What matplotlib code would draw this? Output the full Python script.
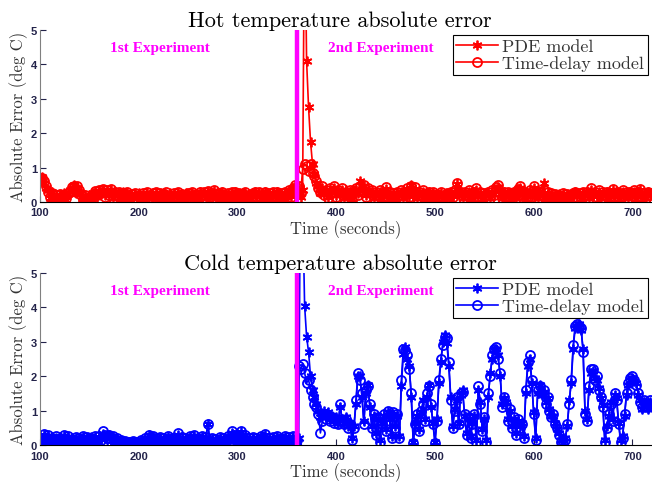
import numpy as np
import matplotlib
matplotlib.use('Agg')
import matplotlib.pyplot as plt

# time axis (seconds), one sample every 2 s
time = np.arange(100, 721, 2)
switch_time = 360  # start of 2nd experiment

# Hot temperature absolute error (deg C)
hot_pde = [
    0.65, 0.72, 0.55, 0.40, 0.35, 0.10, 0.28, 0.08, 0.18, 0.12,  # 100
    0.20, 0.08, 0.25, 0.05, 0.22, 0.35, 0.38, 0.48, 0.25, 0.40,  # 120
    0.30, 0.25, 0.08, 0.18, 0.12, 0.20, 0.08, 0.25, 0.30, 0.15,  # 140
    0.32, 0.28, 0.35, 0.20, 0.30, 0.25, 0.35, 0.12, 0.28, 0.22,  # 160
    0.25, 0.08, 0.28, 0.12, 0.25, 0.18, 0.20, 0.10, 0.22, 0.12,  # 180
    0.25, 0.08, 0.20, 0.18, 0.25, 0.10, 0.22, 0.20, 0.12, 0.25,  # 200
    0.18, 0.22, 0.08, 0.25, 0.22, 0.12, 0.25, 0.08, 0.22, 0.18,  # 220
    0.25, 0.12, 0.20, 0.08, 0.25, 0.22, 0.12, 0.25, 0.18, 0.20,  # 240
    0.08, 0.28, 0.22, 0.25, 0.12, 0.30, 0.18, 0.22, 0.32, 0.12,  # 260
    0.22, 0.08, 0.28, 0.22, 0.12, 0.22, 0.08, 0.25, 0.18, 0.28,  # 280
    0.12, 0.22, 0.08, 0.25, 0.25, 0.12, 0.22, 0.08, 0.22, 0.28,  # 300
    0.18, 0.25, 0.08, 0.22, 0.28, 0.12, 0.22, 0.08, 0.25, 0.18,  # 320
    0.28, 0.12, 0.22, 0.08, 0.25, 0.22, 0.32, 0.18, 0.38, 0.45,  # 340
    0.20, 0.30, 0.15, 0.35, 9.00, 4.10, 2.75, 1.75, 1.10, 0.80,  # 360
    0.55, 0.45, 0.25, 0.40, 0.25, 0.30, 0.15, 0.35, 0.30, 0.40,  # 380
    0.20, 0.30, 0.28, 0.35, 0.12, 0.35, 0.18, 0.30, 0.08, 0.35,  # 400
    0.35, 0.25, 0.60, 0.35, 0.45, 0.20, 0.35, 0.28, 0.30, 0.12,  # 420
    0.25, 0.22, 0.30, 0.08, 0.28, 0.38, 0.18, 0.25, 0.12, 0.22,  # 440
    0.08, 0.25, 0.22, 0.30, 0.12, 0.28, 0.35, 0.18, 0.50, 0.22,  # 460
    0.38, 0.12, 0.25, 0.22, 0.30, 0.08, 0.22, 0.28, 0.12, 0.25,  # 480
    0.08, 0.20, 0.18, 0.25, 0.08, 0.22, 0.22, 0.12, 0.28, 0.18,  # 500
    0.30, 0.52, 0.28, 0.25, 0.12, 0.25, 0.22, 0.30, 0.08, 0.22,  # 520
    0.28, 0.35, 0.18, 0.25, 0.08, 0.22, 0.22, 0.28, 0.12, 0.30,  # 540
    0.22, 0.38, 0.42, 0.22, 0.12, 0.28, 0.18, 0.25, 0.08, 0.22,  # 560
    0.28, 0.12, 0.35, 0.40, 0.22, 0.28, 0.08, 0.22, 0.30, 0.18,  # 580
    0.40, 0.22, 0.12, 0.28, 0.22, 0.55, 0.08, 0.25, 0.18, 0.22,  # 600
    0.12, 0.20, 0.08, 0.22, 0.12, 0.22, 0.12, 0.20, 0.08, 0.18,  # 620
    0.22, 0.28, 0.18, 0.22, 0.08, 0.25, 0.22, 0.28, 0.12, 0.35,  # 640
    0.22, 0.28, 0.18, 0.30, 0.12, 0.25, 0.22, 0.28, 0.08, 0.22,  # 660
    0.35, 0.18, 0.28, 0.08, 0.22, 0.30, 0.22, 0.25, 0.12, 0.28,  # 680
    0.22, 0.30, 0.08, 0.25, 0.35, 0.18, 0.22, 0.12, 0.28, 0.22,  # 700
    0.22,
]
hot_delay = [
    0.68, 0.70, 0.60, 0.45, 0.30, 0.15, 0.25, 0.05, 0.20, 0.10,  # 100
    0.22, 0.05, 0.20, 0.10, 0.25, 0.30, 0.42, 0.45, 0.30, 0.45,  # 120
    0.35, 0.20, 0.05, 0.20, 0.10, 0.15, 0.05, 0.20, 0.33, 0.20,  # 140
    0.35, 0.25, 0.38, 0.15, 0.35, 0.20, 0.38, 0.10, 0.30, 0.20,  # 160
    0.28, 0.05, 0.25, 0.10, 0.30, 0.15, 0.22, 0.05, 0.25, 0.10,  # 180
    0.20, 0.05, 0.25, 0.15, 0.28, 0.05, 0.20, 0.25, 0.10, 0.28,  # 200
    0.15, 0.25, 0.05, 0.22, 0.28, 0.10, 0.20, 0.05, 0.25, 0.15,  # 220
    0.28, 0.10, 0.22, 0.05, 0.20, 0.25, 0.10, 0.28, 0.15, 0.22,  # 240
    0.05, 0.30, 0.20, 0.28, 0.10, 0.32, 0.15, 0.25, 0.35, 0.10,  # 260
    0.25, 0.05, 0.30, 0.20, 0.10, 0.25, 0.05, 0.28, 0.15, 0.30,  # 280
    0.10, 0.25, 0.05, 0.22, 0.28, 0.10, 0.20, 0.05, 0.25, 0.30,  # 300
    0.15, 0.28, 0.05, 0.20, 0.30, 0.10, 0.25, 0.05, 0.28, 0.15,  # 320
    0.30, 0.10, 0.25, 0.05, 0.28, 0.20, 0.35, 0.15, 0.40, 0.50,  # 340
    0.30, 0.45, 0.25, 0.95, 1.10, 1.05, 0.90, 1.10, 0.85, 0.75,  # 360
    0.60, 0.40, 0.30, 0.45, 0.20, 0.35, 0.10, 0.40, 0.25, 0.45,  # 380
    0.15, 0.35, 0.25, 0.40, 0.10, 0.30, 0.20, 0.35, 0.05, 0.30,  # 400
    0.40, 0.20, 0.45, 0.30, 0.50, 0.15, 0.40, 0.25, 0.35, 0.10,  # 420
    0.30, 0.20, 0.35, 0.05, 0.25, 0.42, 0.15, 0.30, 0.10, 0.25,  # 440
    0.05, 0.28, 0.20, 0.35, 0.10, 0.30, 0.40, 0.15, 0.45, 0.25,  # 460
    0.42, 0.10, 0.30, 0.20, 0.35, 0.05, 0.25, 0.30, 0.10, 0.28,  # 480
    0.05, 0.22, 0.15, 0.28, 0.05, 0.20, 0.25, 0.10, 0.30, 0.15,  # 500
    0.35, 0.55, 0.25, 0.30, 0.10, 0.28, 0.20, 0.35, 0.05, 0.25,  # 520
    0.30, 0.40, 0.15, 0.28, 0.05, 0.25, 0.20, 0.30, 0.10, 0.35,  # 540
    0.20, 0.42, 0.48, 0.25, 0.10, 0.30, 0.15, 0.28, 0.05, 0.25,  # 560
    0.30, 0.10, 0.38, 0.45, 0.20, 0.30, 0.05, 0.25, 0.35, 0.15,  # 580
    0.45, 0.25, 0.10, 0.30, 0.20, 0.35, 0.05, 0.28, 0.15, 0.25,  # 600
    0.10, 0.22, 0.05, 0.20, 0.15, 0.25, 0.10, 0.22, 0.05, 0.20,  # 620
    0.25, 0.30, 0.15, 0.25, 0.05, 0.28, 0.20, 0.30, 0.10, 0.40,  # 640
    0.25, 0.30, 0.15, 0.35, 0.10, 0.28, 0.20, 0.30, 0.05, 0.25,  # 660
    0.38, 0.15, 0.30, 0.05, 0.25, 0.35, 0.20, 0.28, 0.10, 0.30,  # 680
    0.25, 0.35, 0.05, 0.28, 0.38, 0.15, 0.25, 0.10, 0.30, 0.20,  # 700
    0.25,
]

# Cold temperature absolute error (deg C)
cold_pde = [
    0.18, 0.12, 0.28, 0.12, 0.25, 0.08, 0.22, 0.12, 0.20, 0.08,  # 100
    0.22, 0.08, 0.25, 0.12, 0.22, 0.08, 0.20, 0.12, 0.20, 0.08,  # 120
    0.18, 0.15, 0.22, 0.08, 0.20, 0.12, 0.22, 0.08, 0.22, 0.12,  # 140
    0.22, 0.18, 0.32, 0.25, 0.22, 0.30, 0.12, 0.22, 0.08, 0.18,  # 160
    0.12, 0.12, 0.08, 0.10, 0.10, 0.08, 0.08, 0.10, 0.10, 0.08,  # 180
    0.08, 0.12, 0.12, 0.18, 0.08, 0.28, 0.12, 0.22, 0.08, 0.18,  # 200
    0.15, 0.20, 0.08, 0.18, 0.12, 0.22, 0.12, 0.18, 0.08, 0.15,  # 220
    0.30, 0.12, 0.20, 0.08, 0.18, 0.12, 0.22, 0.12, 0.25, 0.08,  # 240
    0.18, 0.12, 0.22, 0.08, 0.20, 0.62, 0.12, 0.18, 0.08, 0.15,  # 260
    0.12, 0.20, 0.08, 0.18, 0.12, 0.22, 0.12, 0.35, 0.28, 0.18,  # 280
    0.08, 0.22, 0.38, 0.12, 0.28, 0.12, 0.18, 0.08, 0.20, 0.10,  # 300
    0.18, 0.08, 0.22, 0.12, 0.30, 0.12, 0.18, 0.08, 0.20, 0.12,  # 320
    0.22, 0.08, 0.18, 0.10, 0.22, 0.08, 0.20, 0.12, 0.22, 0.08,  # 340
    0.10, 0.20, 9.00, 7.00, 4.05, 3.15, 2.70, 2.00, 1.60, 1.40,  # 360
    1.20, 1.00, 0.80, 0.90, 1.00, 0.80, 0.95, 0.75, 0.85, 0.70,  # 380
    0.80, 0.65, 1.10, 0.75, 0.65, 0.80, 0.55, 0.65, 0.20, 0.55,  # 400
    1.20, 2.00, 2.00, 1.40, 0.70, 1.50, 1.75, 1.10, 0.55, 0.85,  # 420
    0.35, 0.75, 0.15, 0.65, 0.85, 0.45, 0.95, 0.75, 0.25, 0.90,  # 440
    0.55, 0.85, 0.25, 1.70, 2.65, 2.85, 2.50, 2.30, 1.40, 0.10,  # 460
    0.65, 0.85, 0.45, 0.95, 1.30, 0.75, 1.40, 1.75, 1.10, 0.65,  # 480
    0.10, 0.75, 1.80, 2.40, 3.00, 3.20, 2.95, 2.30, 1.40, 0.55,  # 500
    1.05, 1.30, 0.65, 1.45, 1.60, 0.85, 0.35, 0.75, 0.25, 0.65,  # 520
    0.85, 0.15, 1.60, 1.25, 0.45, 0.75, 0.15, 1.40, 2.10, 2.50,  # 540
    2.75, 2.80, 2.60, 2.00, 1.20, 1.35, 1.25, 0.75, 1.00, 0.55,  # 560
    0.75, 0.35, 0.70, 0.55, 0.65, 0.25, 1.50, 2.30, 2.50, 1.80,  # 580
    0.95, 0.20, 1.50, 1.75, 1.45, 1.55, 1.25, 1.35, 1.05, 0.85,  # 600
    0.85, 0.65, 0.45, 0.35, 0.15, 0.05, 0.20, 0.55, 1.30, 1.80,  # 620
    2.80, 3.40, 3.45, 3.50, 3.35, 2.80, 1.00, 0.75, 1.60, 2.10,  # 640
    2.15, 1.95, 1.90, 1.65, 1.35, 1.15, 0.15, 0.55, 0.85, 1.25,  # 660
    0.75, 1.45, 1.35, 0.65, 0.15, 0.25, 0.85, 1.45, 1.75, 1.90,  # 680
    1.95, 1.85, 1.80, 1.45, 1.30, 1.05, 1.25, 1.25, 1.05, 1.25,  # 700
    1.15,
]
cold_delay = [
    0.20, 0.15, 0.32, 0.10, 0.30, 0.05, 0.20, 0.15, 0.25, 0.05,  # 100
    0.20, 0.10, 0.28, 0.15, 0.25, 0.05, 0.18, 0.10, 0.22, 0.05,  # 120
    0.20, 0.12, 0.25, 0.05, 0.22, 0.15, 0.20, 0.05, 0.25, 0.10,  # 140
    0.25, 0.15, 0.40, 0.30, 0.20, 0.28, 0.10, 0.25, 0.05, 0.20,  # 160
    0.10, 0.15, 0.05, 0.12, 0.08, 0.10, 0.05, 0.12, 0.08, 0.10,  # 180
    0.05, 0.15, 0.10, 0.20, 0.05, 0.30, 0.15, 0.25, 0.05, 0.20,  # 200
    0.12, 0.22, 0.05, 0.20, 0.10, 0.25, 0.15, 0.20, 0.05, 0.18,  # 220
    0.35, 0.10, 0.22, 0.05, 0.20, 0.15, 0.25, 0.10, 0.28, 0.05,  # 240
    0.20, 0.15, 0.25, 0.05, 0.22, 0.62, 0.10, 0.20, 0.05, 0.18,  # 260
    0.10, 0.22, 0.05, 0.20, 0.15, 0.25, 0.10, 0.40, 0.30, 0.20,  # 280
    0.05, 0.25, 0.40, 0.15, 0.30, 0.10, 0.20, 0.05, 0.22, 0.12,  # 300
    0.20, 0.05, 0.25, 0.15, 0.32, 0.10, 0.20, 0.05, 0.22, 0.10,  # 320
    0.25, 0.05, 0.20, 0.12, 0.25, 0.05, 0.22, 0.10, 0.25, 0.05,  # 340
    0.15, 2.30, 2.20, 2.35, 2.10, 1.80, 1.90, 1.60, 1.40, 1.20,  # 360
    1.10, 0.90, 0.35, 0.70, 0.90, 0.75, 0.85, 0.70, 0.80, 0.65,  # 380
    0.75, 0.60, 1.20, 0.70, 0.60, 0.75, 0.50, 0.60, 0.15, 0.50,  # 400
    1.30, 2.10, 1.90, 1.50, 0.60, 1.60, 1.70, 1.20, 0.50, 0.90,  # 420
    0.30, 0.80, 0.10, 0.60, 0.90, 0.40, 1.00, 0.70, 0.20, 0.95,  # 440
    0.50, 0.90, 0.20, 1.90, 2.80, 2.75, 2.60, 2.20, 1.50, 0.05,  # 460
    0.60, 0.90, 0.40, 1.00, 1.20, 0.70, 1.50, 1.70, 1.20, 0.60,  # 480
    0.05, 0.70, 1.90, 2.50, 2.90, 3.15, 3.10, 2.40, 1.30, 0.50,  # 500
    1.00, 1.40, 0.60, 1.50, 1.55, 0.90, 0.30, 0.80, 0.20, 0.60,  # 520
    0.90, 0.10, 1.70, 1.20, 0.40, 0.80, 0.10, 1.50, 2.00, 2.60,  # 540
    2.80, 2.85, 2.50, 2.10, 1.10, 1.40, 1.20, 0.70, 1.05, 0.50,  # 560
    0.80, 0.30, 0.75, 0.50, 0.60, 0.20, 1.60, 2.40, 2.60, 1.90,  # 580
    0.90, 0.15, 1.60, 1.70, 1.50, 1.60, 1.20, 1.40, 1.00, 0.80,  # 600
    0.90, 0.60, 0.50, 0.30, 0.10, 0.02, 0.15, 0.60, 1.20, 1.90,  # 620
    2.90, 3.45, 3.50, 3.45, 3.40, 2.70, 0.90, 0.70, 1.70, 2.20,  # 640
    2.20, 1.90, 2.00, 1.60, 1.40, 1.10, 0.10, 0.50, 0.90, 1.20,  # 660
    0.70, 1.50, 1.30, 0.60, 0.10, 0.20, 0.90, 1.50, 1.80, 1.95,  # 680
    2.00, 1.90, 1.75, 1.50, 1.25, 1.10, 1.30, 1.20, 1.10, 1.30,  # 700
    1.20,
]

x_ticks = [100, 200, 300, 400, 500, 600, 700]
y_ticks = [0, 1, 2, 3, 4, 5]

serif = 'cmr10'
asterisk = (6, 2, 0)
fig = plt.figure(figsize=(6.52, 4.89), dpi=100)


def draw_panel(rect, pde, delay, color, title):
    ax = fig.add_axes(rect)
    ax.plot(time, pde, color=color, lw=1.2, marker=asterisk, ms=7, mew=1.3,
            label='PDE model')
    ax.plot(time, delay, color=color, lw=1.2, marker='o', ms=6.5, mew=1.3,
            mfc='none', label='Time-delay model')
    ax.axvline(switch_time, color='#ff00ff', lw=3.2, zorder=5)
    ax.set_xlim(100, 720)
    ax.set_ylim(0, 5)
    ax.set_xticks(x_ticks)
    ax.set_yticks(y_ticks)
    ax.tick_params(direction='in', length=4, labelsize=8, colors='#23234a')
    ax.tick_params(axis='x', pad=4)
    ax.tick_params(axis='y', pad=2)
    for lab in ax.get_xticklabels() + ax.get_yticklabels():
        lab.set_fontfamily('Liberation Sans')
        lab.set_fontweight('bold')
    ax.spines['top'].set_visible(False)
    ax.spines['right'].set_visible(False)
    ax.spines['left'].set_color('#808080')
    ax.spines['bottom'].set_color('black')
    ax.set_title(title, family=serif, fontsize=16, pad=3, x=0.49)
    ax.set_xlabel('Time (seconds)', family=serif, fontsize=12, labelpad=1,
                  color='#333333')
    ax.set_ylabel('Absolute Error (deg C)', family=serif, fontsize=12,
                  labelpad=2, color='#333333')
    ax.text(221, 4.48, '1st Experiment', color='#ff00ff', ha='center',
            va='center', family='Liberation Serif', weight='bold', fontsize=11)
    ax.text(445, 4.48, '2nd Experiment', color='#ff00ff', ha='center',
            va='center', family='Liberation Serif', weight='bold', fontsize=11)
    leg = ax.legend(loc='upper right', bbox_to_anchor=(0.993, 0.97),
                    prop={'family': serif, 'size': 13}, fancybox=False,
                    framealpha=1, edgecolor='black', borderpad=0.2,
                    labelspacing=0.05, handlelength=2.3, handletextpad=0.25,
                    borderaxespad=0)
    leg.get_frame().set_linewidth(0.8)
    for txt in leg.get_texts():
        txt.set_color('#333333')
    return ax


draw_panel([0.0613, 0.585, 0.939, 0.352], hot_pde, hot_delay, 'red',
           'Hot temperature absolute error')
draw_panel([0.0613, 0.088, 0.939, 0.352], cold_pde, cold_delay, 'blue',
           'Cold temperature absolute error')

fig.savefig('out.png', dpi=100)
